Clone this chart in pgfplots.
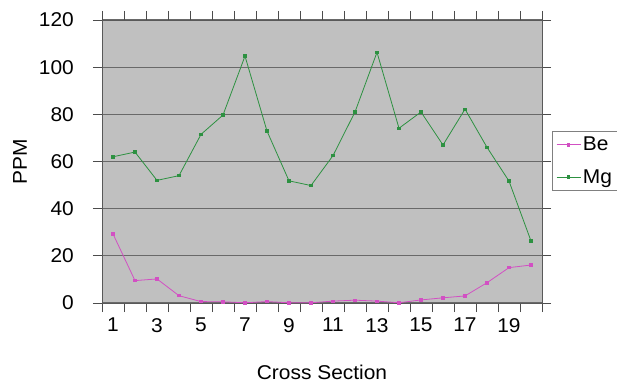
\documentclass[border=0pt]{standalone}
\usepackage{pgfplots}
\pgfplotsset{compat=1.18}
\usepackage{fontspec}
\setmainfont{Liberation Sans}[FakeStretch=1.05]
\definecolor{bgcol}{RGB}{192,192,192}
\definecolor{gridcol}{RGB}{105,105,105}
\definecolor{becol}{RGB}{210,80,195}
\definecolor{mgcol}{RGB}{45,145,65}
\begin{document}
\begin{tikzpicture}
\path[use as bounding box] (-102bp,-82bp) rectangle (515bp,303bp);
\begin{axis}[
  at={(0,0)}, anchor=south west,
  width=440bp, height=283bp, scale only axis,
  xmin=0.5, xmax=20.5, ymin=0, ymax=120,
  ytick={0,20,...,120},
  xtick={0.5,1.5,...,20.5}, xticklabels={},
  extra x ticks={1,3,...,19},
  extra x tick labels={1,3,5,7,9,11,13,15,17,19},
  extra x tick style={major tick length=0pt, xticklabel style={yshift=-15bp}},
  tick align=outside, major tick length=9bp,
  ticklabel style={inner sep=0pt, font=\fontsize{20}{23}\selectfont},
  yticklabel style={xshift=-19bp},
  /pgf/number format/assume math mode=true,
  tick style={draw=gray!60!black, line width=0.9bp},
  ymajorgrids, grid style={draw=gridcol, line width=1.2bp},
  axis background/.style={fill=bgcol},
  axis line style={draw=gray!70!black, line width=0.9bp},
  xlabel={Cross Section}, ylabel={PPM},
  label style={font=\fontsize{20}{23}\selectfont},
  x label style={at={(axis description cs:0.5,-0.2438)}, anchor=center},
  y label style={at={(axis description cs:-0.1864,0.5)}, anchor=center},
  legend style={at={(axis description cs:1.0227,0.6078)}, anchor=north west,
    draw=gray, fill=white, font=\fontsize{20}{23}\selectfont,
    row sep=13bp, inner xsep=4bp, inner ysep=4bp, cells={anchor=west}},
  legend image code/.code={\draw[mark repeat=2,mark phase=2,#1] plot coordinates {(0bp,0bp)(12bp,0bp)(24bp,0bp)};},
]
\addplot[color=becol, line width=0.8bp, mark=square*, mark size=1.2bp] coordinates {
(1,29.3)(2,9.5)(3,10.2)(4,3.1)(5,0.6)(6,0.5)(7,0.1)(8,0.6)(9,0.1)(10,0.1)
(11,0.8)(12,1.2)(13,0.8)(14,0.1)(15,1.3)(16,2.2)(17,3.0)(18,8.6)(19,15.0)(20,16.1)};
\addlegendentry{Be}
\addplot[color=mgcol, line width=0.8bp, mark=square*, mark size=1.2bp] coordinates {
(1,62)(2,64)(3,52)(4,54)(5,71.5)(6,79.7)(7,104.7)(8,72.9)(9,51.8)(10,49.8)
(11,62.5)(12,81)(13,106.3)(14,74.1)(15,81)(16,67)(17,82.2)(18,66)(19,51.7)(20,26.3)};
\addlegendentry{Mg}
\end{axis}
\end{tikzpicture}
\end{document}
